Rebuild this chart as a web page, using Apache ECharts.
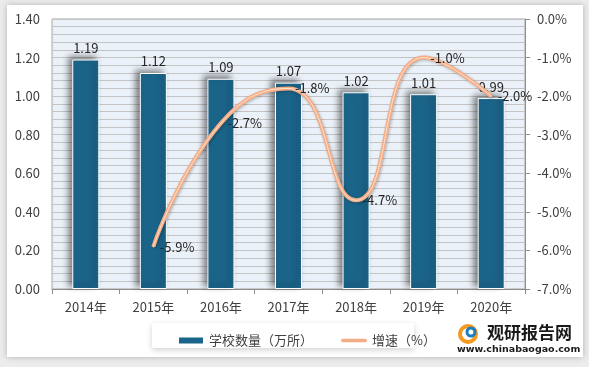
<!DOCTYPE html>
<html><head><meta charset="utf-8">
<script src="https://cdn.jsdelivr.net/npm/echarts@6/dist/echarts.min.js"></script>
<style>html,body{margin:0;padding:0;background:#ececec;}#c{width:589px;height:367px;}</style>
</head><body><div id="c"></div>
<script>
const categories = ['2014年','2015年','2016年','2017年','2018年','2019年','2020年'];
const schoolCount = [1.19, 1.12, 1.09, 1.07, 1.02, 1.01, 0.99];
const growthRate = [null, -5.9, -2.7, -1.8, -4.7, -1.0, -2.0];
const barName = '学校数量（万所）';
const lineName = '增速（%）';

const font = '"Noto Sans CJK SC", "Noto Sans", sans-serif';
const txt = '#404040';
const chart = echarts.init(document.getElementById('c'));
chart.setOption({
  backgroundColor: '#ececec',
  animation: false,
  textStyle: {fontFamily: font},
  graphic: [
    {type:'rect', shape:{x:7,y:5,width:576,height:352}, style:{fill:'#ffffff', shadowBlur:6, shadowColor:'rgba(0,0,0,0.25)'}, z:-10},
    {type:'rect', shape:{x:152,y:323,width:262,height:25}, style:{fill:'#ffffff', shadowBlur:6, shadowColor:'rgba(0,0,0,0.18)', shadowOffsetY:2}, z:-5},
    {type:'text', left:487, top:324, style:{text:'观研报告网', fill:'#1a1a1a', font:'bold 17px "Noto Sans CJK SC"'}, z:10},
    {type:'text', left:457, top:345, style:{text:'www.chinabaogao.com', fill:'#1a1a1a', font:'bold 9.5px "DejaVu Sans"'}, z:10},
    {type:'circle', shape:{cx:468, cy:334, r:8}, style:{fill:'none', stroke:'#f39a1e', lineWidth:4}, z:10},
    {type:'circle', shape:{cx:471, cy:332, r:4}, style:{fill:'none', stroke:'#1e7fc0', lineWidth:3}, z:10}
  ],
  grid: {left:52, right:64, top:19, bottom:78, show:true, backgroundColor:'#eaf1f8', borderColor:'#a6a6a6', borderWidth:1},
  legend: {
    left:172, top:329, itemGap:28, itemWidth:26, itemHeight:8,
    textStyle:{color:txt, fontSize:13, fontFamily:font},
    data:[{name:barName, icon:'rect'}, {name:lineName, icon:'path://M2,0 L28,0 A2,2 0 0 1 28,4 L2,4 A2,2 0 0 1 2,0 Z', itemStyle:{color:'#f4ad86', opacity:1}}]
  },
  xAxis: {
    type:'category', data:categories,
    axisLine:{show:true, lineStyle:{color:'#8c8c8c'}},
    axisTick:{show:true, length:5, lineStyle:{color:'#8c8c8c'}},
    axisLabel:{color:txt, fontSize:13, margin:12}
  },
  yAxis: [
    {type:'value', min:0, max:1.4, interval:0.2,
     axisLabel:{color:txt, fontSize:13, margin:12, formatter:v=>v.toFixed(2)},
     axisLine:{show:false}, axisTick:{show:false},
     splitLine:{lineStyle:{color:'#c4c4c4'}},
     minorTick:{show:false, splitNumber:5},
     minorSplitLine:{show:true, lineStyle:{color:'#c4c4c4'}}},
    {type:'value', min:-7, max:0, interval:1, position:'right',
     axisLabel:{color:txt, fontSize:13, margin:12, formatter:v=>v.toFixed(1)+'%'},
     axisLine:{show:true, lineStyle:{color:'#8c8c8c'}},
     axisTick:{show:true, length:5, lineStyle:{color:'#8c8c8c'}},
     splitLine:{show:false}}
  ],
  series: [
    {name:barName, type:'bar', data:schoolCount, barWidth:'40%',
     itemStyle:{color:'#1b6489', borderColor:'#ffffff', borderWidth:1,
       shadowColor:'rgba(0,0,0,0.45)', shadowBlur:6, shadowOffsetX:-4, shadowOffsetY:-3},
     label:{show:true, position:'top', distance:5, color:'#262626', fontSize:13, formatter:p=>Number(p.value).toFixed(2)}},
    {name:lineName, type:'line', yAxisIndex:1, data:growthRate, smooth:0.5, connectNulls:false,
     symbol:'circle', symbolSize:2, showSymbol:true, z:5,
     lineStyle:{color:'#f4ad86', width:4, shadowColor:'rgba(0,0,0,0.25)', shadowBlur:3, shadowOffsetX:1, shadowOffsetY:1},
     itemStyle:{color:'#f4ad86'}},
    {name:'inner', type:'line', yAxisIndex:1, data:growthRate, smooth:0.5, symbol:'circle', symbolSize:1, showSymbol:true, z:6, silent:true,
     lineStyle:{color:'#fde2d0', width:1}, itemStyle:{color:'#fde2d0'},
     label:{show:true, position:'right', distance:6, color:'#262626', fontSize:13,
       formatter:p=>(p.value==null?'':Number(p.value).toFixed(1)+'%')}}
  ]
});
</script></body></html>
